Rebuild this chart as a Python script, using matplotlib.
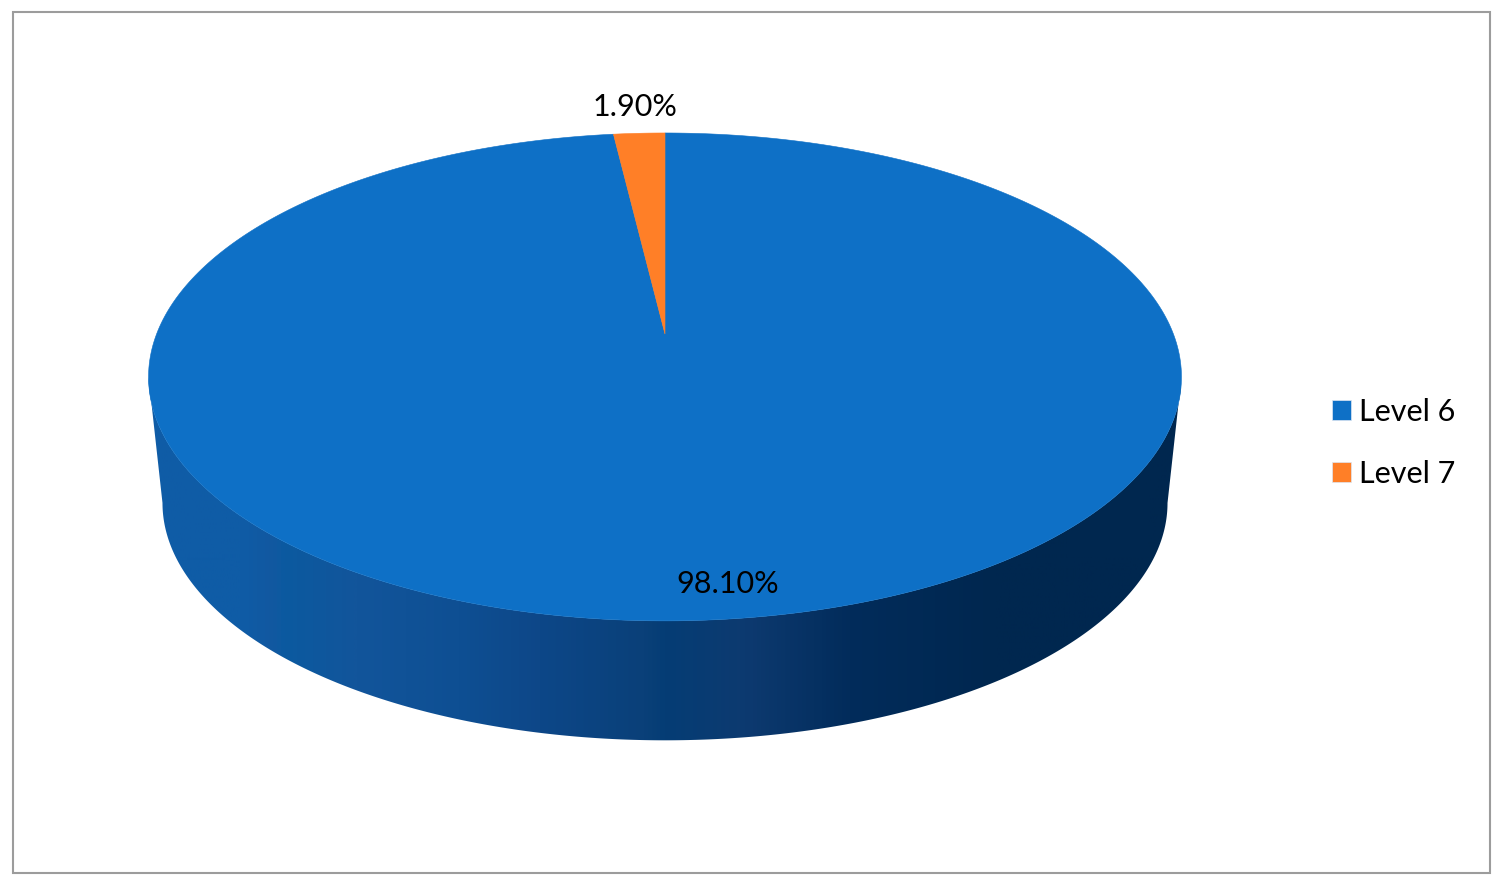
import numpy as np
import matplotlib
matplotlib.use("Agg")
import matplotlib.pyplot as plt
from matplotlib.colors import LinearSegmentedColormap
from matplotlib.patches import Patch, Polygon, Rectangle

labels = ["Level 6", "Level 7"]
shares = [98.10, 1.90]
share_text = ["98.10%", "1.90%"]
colors = ["#0E70C6", "#FF7F27"]

# side wall shading, left to right across the disc
wall_x = [0.0, 0.09, 0.12, 0.13, 0.20, 0.30, 0.38, 0.48, 0.50, 0.58, 0.68, 0.82, 1.0]
wall_colors = ["#0F5CA6", "#0F5CA6", "#1258A0", "#0B5AA0", "#12559B", "#0E4F93",
               "#0D4788", "#0A4079", "#053D75", "#0D3A70", "#022C5B", "#00274F", "#00274F"]

plt.rcParams["font.family"] = ["Lato", "DejaVu Sans"]

# top face is a circle seen in perspective, so the apex sits above the ellipse centre
cx, apex_y = 665, 334
a, b, k = 508.4, 236.4, 0.176


def top_face(angle_deg):
    t = np.radians(angle_deg)
    u, v = np.sin(t), np.cos(t)
    return cx + a * u / (1 + k * v), apex_y - b * v / (1 + k * v)


def wedge_points(start, end):
    x, y = top_face(np.linspace(start, end, 400))
    return np.column_stack([np.r_[cx, x], np.r_[apex_y, y]])


fig = plt.figure(figsize=(15, 8.86), dpi=100)
ax = fig.add_axes([0, 0, 1, 1])
ax.set_xlim(0, 1500)
ax.set_ylim(886, 0)
ax.axis("off")

ax.add_patch(Rectangle((13, 11.5), 1477, 861.5, fill=False, edgecolor="#9C9C9C", linewidth=1.5))

# side wall: front of the top rim (between its widest points) down to a narrower bottom rim
widest = np.degrees(np.arccos(-k))
ang = np.linspace(widest, 360 - widest, 400)
rim_x, rim_y = top_face(ang)
bottom_x = cx + 0.973 * (rim_x - cx)
bottom_y = 503 + 0.973 * (rim_y - 377)
wall = np.column_stack([np.r_[rim_x, bottom_x[::-1]], np.r_[rim_y, bottom_y[::-1]]])
cmap = LinearSegmentedColormap.from_list("wall", list(zip(wall_x, wall_colors)))
im = ax.imshow(np.linspace(0, 1, 1024)[None, :], cmap=cmap, aspect="auto",
               extent=(148, 1181, 745, 370), zorder=1)
clip = Polygon(wall, closed=True, transform=ax.transData, facecolor="none", edgecolor="none")
ax.add_patch(clip)
im.set_clip_path(clip)
ax.set_xlim(0, 1500)
ax.set_ylim(886, 0)

# slices start at 12 o'clock and go clockwise
start = 0
for share, color in zip(shares, colors):
    end = start + share * 3.6
    ax.add_patch(Polygon(wedge_points(start, end), closed=True, facecolor=color,
                         edgecolor=color, linewidth=0.4, zorder=2))
    start = end

ax.text(728, 584, share_text[0], fontsize=22, ha="center", va="center", color="black", zorder=3)
ax.text(635, 107, share_text[1], fontsize=22, ha="center", va="center", color="black", zorder=3)

handles = [Patch(facecolor=c, edgecolor="#DDE6F2", linewidth=0.5) for c in colors]
ax.legend(handles, labels, loc="center left", bbox_to_anchor=(1332 / 1500, 1 - 443 / 886),
          frameon=False, fontsize=22, handlelength=0.62, handleheight=0.62,
          handletextpad=0.26, labelspacing=1.12, borderpad=0, borderaxespad=0)

fig.savefig("out.png", dpi=100)
